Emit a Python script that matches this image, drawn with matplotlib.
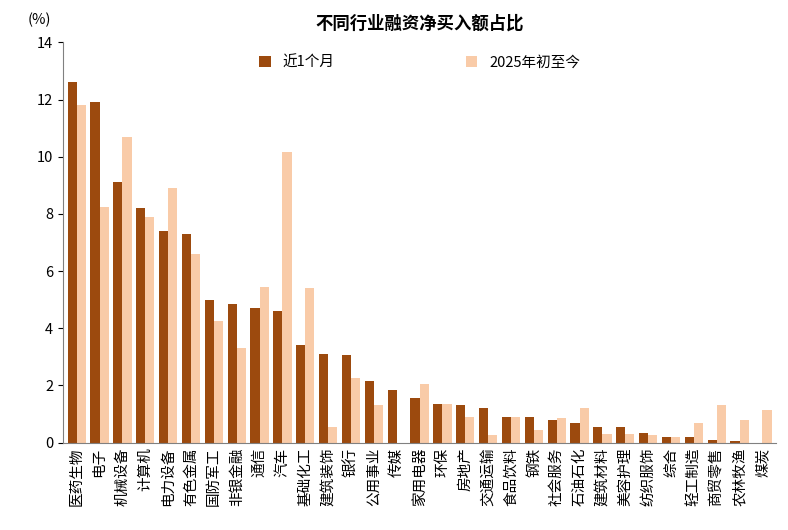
import matplotlib
matplotlib.use("Agg")
import matplotlib.pyplot as plt
import numpy as np

plt.rcParams['font.family'] = ['Noto Sans CJK SC', 'DejaVu Sans']

categories = ["医药生物","电子","机械设备","计算机","电力设备","有色金属","国防军工","非银金融","通信","汽车",
              "基础化工","建筑装饰","银行","公用事业","传媒","家用电器","环保","房地产","交通运输","食品饮料",
              "钢铁","社会服务","石油石化","建筑材料","美容护理","纺织服饰","综合","轻工制造","商贸零售","农林牧渔","煤炭"]
recent = [12.6,11.9,9.1,8.2,7.4,7.3,5.0,4.85,4.7,4.6,3.4,3.1,3.05,2.15,1.85,1.55,1.35,1.3,1.2,0.9,
          0.9,0.8,0.7,0.55,0.55,0.33,0.2,0.18,0.08,0.05,0.0]
ytd = [11.8,8.25,10.7,7.9,8.9,6.6,4.25,3.3,5.45,10.15,5.4,0.55,2.25,1.3,0.0,2.05,1.35,0.9,0.25,0.9,
       0.45,0.85,1.2,0.3,0.3,0.25,0.2,0.7,1.3,0.8,1.15]
series_names = ["近1个月","2025年初至今"]

fig, ax = plt.subplots(figsize=(7.88,5.30), dpi=100)
fig.subplots_adjust(left=0.08, right=0.985, top=0.92, bottom=0.165)
x = np.arange(len(categories))
w = 0.4
ax.bar(x - w/2, recent, w, color="#9C4A0E", label=series_names[0])
ax.bar(x + w/2, ytd, w, color="#F9CBA8", label=series_names[1])
ax.set_xlim(-0.6, len(categories)-0.4)
ax.set_ylim(0, 14)
ax.set_yticks(range(0, 15, 2))
ax.set_xticks(x)
ax.set_xticklabels(categories, rotation=90, fontsize=10.5)
ax.tick_params(axis='y', labelsize=10.5)
ax.tick_params(axis='x', length=0)
for s in ["top","right"]:
    ax.spines[s].set_visible(False)
ax.spines["left"].set_color("#808080")
ax.spines["bottom"].set_color("#808080")
ax.set_title("不同行业融资净买入额占比", fontsize=12.5, fontweight='bold', pad=10)
fig.text(0.035, 0.955, "(%)", fontsize=10.5)
ax.legend(loc="upper center", bbox_to_anchor=(0.5, 1.0), ncol=2, frameon=False, fontsize=10.5,
          columnspacing=9, handlelength=0.8, handleheight=0.8)
fig.savefig("out.png", dpi=100)
